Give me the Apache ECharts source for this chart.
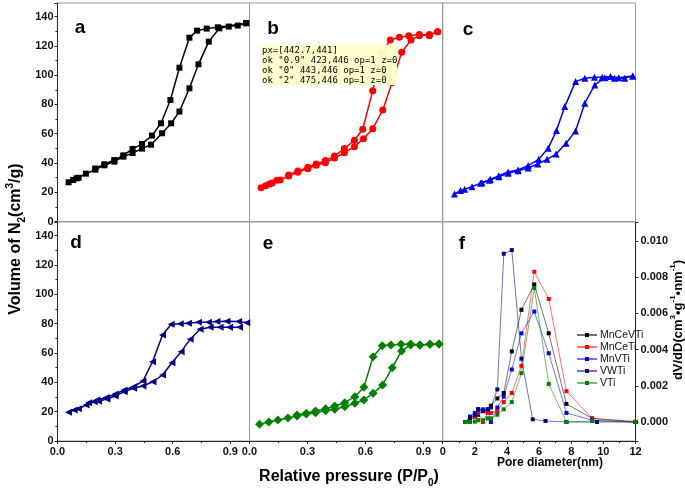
<!DOCTYPE html>
<html><head><meta charset="utf-8">
<script src="https://cdn.jsdelivr.net/npm/echarts@6/dist/echarts.min.js"></script>
<style>html,body{margin:0;padding:0;background:#fff}#c{width:685px;height:496px}#d{position:absolute;left:262px;top:45px;font:9px monospace;white-space:pre;background:rgba(255,255,200,0.95)}</style>
</head><body><div id="c"></div><div id="d"></div>
<script>
const aAdsorption = [[0.058,26.8],[0.082,28.4],[0.099,29.5],[0.110,29.9],[0.148,32.7],[0.197,35.4],[0.244,38.4],[0.296,40.9],[0.343,44.3],[0.391,46.8],[0.440,49.8],[0.487,52.5],[0.545,60.3],[0.592,67.1],[0.635,75.1],[0.687,91.0],[0.734,107.4],[0.788,122.9],[0.843,132.0],[0.892,133.2],[0.939,133.9],[0.983,135.5]];
const aDesorption = [[0.983,135.5],[0.835,132.7],[0.777,131.8],[0.727,130.4],[0.687,125.6],[0.635,105.1],[0.588,83.0],[0.539,67.1],[0.492,58.7],[0.440,53.0],[0.391,49.6],[0.343,45.2],[0.296,42.0],[0.244,39.1],[0.197,36.2]];
const bAdsorption = [[0.060,23.1],[0.083,24.5],[0.103,25.6],[0.117,26.3],[0.141,28.2],[0.159,28.4],[0.203,31.1],[0.250,33.6],[0.302,36.1],[0.345,38.4],[0.393,40.2],[0.440,43.4],[0.491,47.0],[0.543,51.1],[0.590,56.6],[0.638,63.4],[0.690,76.2],[0.738,94.9],[0.788,115.7],[0.836,124.1],[0.879,127.0],[0.931,127.7],[0.974,129.7]];
const bDesorption = [[0.974,129.7],[0.931,127.0],[0.879,127.7],[0.824,127.0],[0.776,125.9],[0.729,124.1],[0.685,115.0],[0.638,89.4],[0.586,63.0],[0.543,55.5],[0.491,49.8],[0.440,44.8],[0.393,41.6],[0.345,39.3],[0.302,37.0],[0.250,34.5],[0.203,31.8]];
const cAdsorption = [[0.061,18.8],[0.092,21.1],[0.114,22.0],[0.152,23.8],[0.196,26.1],[0.242,28.2],[0.291,30.6],[0.339,32.9],[0.391,34.7],[0.443,36.6],[0.493,39.3],[0.541,42.5],[0.588,46.1],[0.640,53.4],[0.689,61.9],[0.737,80.8],[0.789,93.3],[0.841,98.3],[0.891,97.9],[0.944,97.9],[0.986,99.5]];
const cDesorption = [[0.986,99.5],[0.913,98.3],[0.870,99.0],[0.827,98.5],[0.787,98.5],[0.737,97.9],[0.689,95.6],[0.633,78.5],[0.590,62.1],[0.547,50.0],[0.498,42.5],[0.443,38.2],[0.391,35.2],[0.339,33.8],[0.291,31.3],[0.247,28.8],[0.204,26.5]];
const dAdsorption = [[0.057,19.6],[0.087,21.1],[0.109,22.0],[0.149,24.5],[0.191,26.8],[0.214,27.1],[0.257,28.6],[0.300,30.7],[0.347,33.6],[0.396,35.9],[0.445,37.5],[0.497,40.4],[0.547,45.0],[0.596,53.4],[0.644,60.9],[0.691,69.3],[0.743,76.2],[0.795,77.5],[0.847,77.5],[0.896,77.5],[0.948,77.5]];
const dDesorption = [[0.986,80.7],[0.943,81.4],[0.882,81.6],[0.830,81.4],[0.786,80.9],[0.734,80.9],[0.682,80.2],[0.639,80.0],[0.592,79.6],[0.547,72.3],[0.495,54.1],[0.445,40.9],[0.396,37.0],[0.347,34.8],[0.300,32.0],[0.254,29.6],[0.205,28.0],[0.162,26.1]];
const eAdsorption = [[0.052,11.4],[0.100,13.0],[0.147,14.3],[0.199,15.7],[0.246,17.0],[0.294,18.4],[0.342,19.3],[0.394,20.7],[0.441,21.6],[0.493,23.4],[0.545,25.7],[0.592,28.0],[0.640,32.5],[0.689,38.2],[0.739,50.0],[0.787,61.4],[0.834,65.5],[0.882,65.5],[0.934,65.9],[0.981,66.1]];
const eDesorption = [[0.981,66.1],[0.934,65.9],[0.882,65.5],[0.834,66.1],[0.784,65.9],[0.732,65.5],[0.687,65.0],[0.640,57.5],[0.592,36.6],[0.545,30.2],[0.493,26.1],[0.441,23.9],[0.394,22.0],[0.342,20.5],[0.294,18.9],[0.246,17.7]];
const poreDiameter = [1.4,1.7,2.0,2.2,2.5,2.8,3.0,3.4,3.8,4.3,4.9,5.7,6.6,7.7,9.3,12];
const poreDiameterVWTi = [1.4,1.7,2.0,2.2,2.5,2.8,3.0,3.4,3.8,4.3,4.9,5.6,6.4,7.7,9.6,12];
const MnCeVTi = [0,0.0001,0.0003,0.0004,0.0006,0.0006,0.0009,0.0013,0.0016,0.0039,0.0062,0.0076,0.0049,0.0010,0.0002,0.0];
const MnCeTi  = [0,0.0001,0.0003,0.0005,0.0,0.0005,0.0005,0.0006,0.0011,0.0016,0.0031,0.0083,0.0068,0.0017,0.0002,0.00002];
const MnVTi   = [0,0.0003,0.0005,0.0007,0.0007,0.0007,0.0,0.0008,0.0014,0.0029,0.0049,0.0061,0.0038,0.0005,0.0001,0];
const VWTi    = [0,0.0002,0.0004,0.0007,0.0006,0.0007,0.0008,0.0018,0.0093,0.0095,0.0035,0.00015,0.00006,0,0,0];
const VTi     = [0,0,0.00002,0.0001,0.0001,0.0002,0.0002,0.0004,0.0007,0.0011,0.0027,0.0074,0.0021,0,0.00005,0];
const panelLetters = ['a','b','c','d','e','f'];
const pressureTicks = [0.0,0.3,0.6,0.9];
const volumeTicks = [0,20,40,60,80,100,120,140];
const poreTicks = [0,2,4,6,8,10,12];
const dvdTicks = [0,0.002,0.004,0.006,0.008,0.010];

const FONT = "'Liberation Sans', Arial, sans-serif";
const cols = [57.5, 249.5, 442.7, 635.5];
const rowsTop = [3, 222];
const rowsH = [218.5, 219];
const frame = '#9a9a9a', dark = '#222';
const grids = [];
for (let r = 0; r < 2; r++) for (let c = 0; c < 3; c++) {
  grids.push({left: cols[c], top: rowsTop[r], width: cols[c+1]-cols[c], height: rowsH[r], show: true, borderColor: frame, borderWidth: 1, containLabel: false});
}
const lblStyle = {fontFamily: FONT, fontWeight: 'bold', fontSize: 11, color: '#111'};
const xAxes = [], yAxes = [];
for (let i = 0; i < 6; i++) {
  const bottomRow = i >= 3;
  if (i === 5) {
    xAxes.push({gridIndex: i, type: 'value', min: 0, max: 12, interval: 2,
      axisLine: {show: true, onZero: false, lineStyle: {color: dark}},
      axisTick: {show: true, length: 3, lineStyle: {color: dark}},
      minorTick: {show: true, splitNumber: 2, length: 2, lineStyle: {color: dark}},
      axisLabel: Object.assign({margin: 5, showMinLabel: true}, lblStyle), splitLine: {show: false}});
    yAxes.push({gridIndex: i, type: 'value', position: 'right', min: -0.00105, max: 0.01105, splitNumber: 6,
      axisLine: {show: true, onZero: false, lineStyle: {color: dark}},
      axisTick: {show: true, length: 3, lineStyle: {color: dark}},
      minorTick: {show: false},
      axisLabel: Object.assign({margin: 5, customValues: dvdTicks, formatter: v => v.toFixed(3)}, lblStyle), splitLine: {show: false}});
  } else {
    xAxes.push({gridIndex: i, type: 'value', min: 0, max: 1, interval: 0.3,
      axisLine: {show: true, onZero: false, lineStyle: {color: bottomRow ? dark : frame}},
      axisTick: {show: bottomRow, length: 3, lineStyle: {color: dark}},
      minorTick: {show: bottomRow, splitNumber: 2, length: 2, lineStyle: {color: dark}},
      axisLabel: Object.assign({show: bottomRow, margin: 5, customValues: pressureTicks, formatter: v => v.toFixed(1)}, lblStyle), splitLine: {show: false}});
    const leftCol = (i % 3) === 0;
    yAxes.push({gridIndex: i, type: 'value', min: 0, max: 149.3, interval: 20,
      axisLine: {show: true, onZero: false, lineStyle: {color: leftCol ? dark : frame}},
      axisTick: {show: leftCol, length: 3, lineStyle: {color: dark}},
      minorTick: {show: leftCol, splitNumber: 2, length: 2, lineStyle: {color: dark}},
      axisLabel: Object.assign({show: leftCol, margin: 4, customValues: volumeTicks, formatter: v => String(Math.round(v))}, lblStyle), splitLine: {show: false}});
  }
}
const isoStyles = [
  {color: '#000000', symbol: 'rect', size: 6, rot: 0},
  {color: '#ff0000', symbol: 'circle', size: 7, rot: 0},
  {color: '#0000ff', symbol: 'triangle', size: 7, rot: 0},
  {color: '#00008b', symbol: 'triangle', size: 7, rot: 90},
  {color: '#008000', symbol: 'diamond', size: 9, rot: 0}
];
const isoData = [[aAdsorption, aDesorption],[bAdsorption, bDesorption],[cAdsorption, cDesorption],[dAdsorption, dDesorption],[eAdsorption, eDesorption]];
const series = [];
isoData.forEach((pair, i) => {
  const st = isoStyles[i];
  pair.forEach(d => series.push({type: 'line', xAxisIndex: i, yAxisIndex: i, data: d,
    symbol: st.symbol, symbolSize: st.size, symbolRotate: st.rot, showSymbol: true,
    itemStyle: {color: st.color}, lineStyle: {color: st.color, width: 1.5}, silent: true}));
});
const psd = [
  {name: 'MnCeVTi', x: poreDiameter, y: MnCeVTi, color: '#000000'},
  {name: 'MnCeTi', x: poreDiameter, y: MnCeTi, color: '#ff0000'},
  {name: 'MnVTi', x: poreDiameter, y: MnVTi, color: '#0000ff'},
  {name: 'VWTi', x: poreDiameterVWTi, y: VWTi, color: '#000080'},
  {name: 'VTi', x: poreDiameter, y: VTi, color: '#008000'}
];
psd.forEach(s => series.push({type: 'line', name: s.name, xAxisIndex: 5, yAxisIndex: 5,
  data: s.x.map((x, k) => [x, s.y[k]]), symbol: 'rect', symbolSize: 4,
  itemStyle: {color: s.color}, lineStyle: {color: s.color, width: 1, opacity: 0.55}, silent: true}));
const graphic = [];
const letterPos = [[80,28],[273,29],[468,30],[76,243],[268,244],[462,244]];
panelLetters.forEach((t, i) => graphic.push({type: 'text', x: letterPos[i][0], y: letterPos[i][1],
  style: {text: t, fill: '#000', font: `bold 19px ${FONT}`, align: 'center', verticalAlign: 'middle', textAlign: 'center', textVerticalAlign: 'middle'}}));
const rich = (fs) => ({
  b: {fontSize: fs, fontWeight: 'bold', fontFamily: FONT, fill: '#000', color: '#000', lineHeight: fs + 6},
  sub: {fontSize: Math.round(fs * 0.62), fontWeight: 'bold', fontFamily: FONT, fill: '#000', color: '#000', lineHeight: Math.round(fs * 0.62) + 2, verticalAlign: 'bottom'},
  sup: {fontSize: Math.round(fs * 0.62), fontWeight: 'bold', fontFamily: FONT, fill: '#000', color: '#000', lineHeight: Math.round(fs * 0.62) + 2, verticalAlign: 'top'}
});
graphic.push({type: 'text', x: 16, y: 239, rotation: Math.PI / 2,
  style: {text: '{b|Volume of N}{sub|2}{b|(cm}{sup|3}{b|/g)}', rich: rich(16), align: 'center', verticalAlign: 'middle', textAlign: 'center', textVerticalAlign: 'middle'}});
graphic.push({type: 'text', x: 349, y: 477,
  style: {text: '{b|Relative pressure (P/P}{sub|0}{b|)}', rich: rich(16), align: 'center', verticalAlign: 'middle', textAlign: 'center', textVerticalAlign: 'middle'}});
graphic.push({type: 'text', x: 550, y: 463,
  style: {text: 'Pore diameter(nm)', fill: '#000', font: `bold 12px ${FONT}`, align: 'center', verticalAlign: 'middle', textAlign: 'center', textVerticalAlign: 'middle'}});
graphic.push({type: 'text', x: 678, y: 320, rotation: Math.PI / 2,
  style: {text: '{b|dV/dD(cm}{sup|3}{b|•g}{sup|-1}{b|•nm}{sup|-1}{b|)}', rich: rich(13), align: 'center', verticalAlign: 'middle', textAlign: 'center', textVerticalAlign: 'middle'}});

const chart = echarts.init(document.getElementById('c'));
chart.setOption({
  animation: false, backgroundColor: '#fff',
  grid: grids, xAxis: xAxes, yAxis: yAxes, series,
  legend: {data: psd.map(s => s.name), orient: 'vertical', left: 571, top: 324, itemWidth: 20, itemHeight: 5, itemGap: 0,
    selectedMode: false, textStyle: {fontFamily: FONT, fontSize: 10.5, lineHeight: 12, color: '#111', padding: [0,0,0,-2]}},
  graphic
});
// debug
let out = [];
try {
  const px = chart.convertToPixel({xAxisIndex: 5, yAxisIndex: 5}, [0, -0.00105]);
  out.push('px=' + JSON.stringify(px));
} catch (e) { out.push('ERR ' + e.message); }
chart.getZr().storage.getRoots().forEach(r => r.traverse && r.traverse(el => {
  if (el.type === 'text' && el.y > 430 && el.x > 400 && el.x < 500) out.push((el.ignore||el.invisible ? 'HID ' : 'ok ') + JSON.stringify(el.style.text) + ' ' + Math.round(el.x) + ',' + Math.round(el.y) + ' op=' + el.style.opacity + ' z=' + el.z);
}));
document.getElementById('d').textContent = out.join('\n');
</script></body></html>
